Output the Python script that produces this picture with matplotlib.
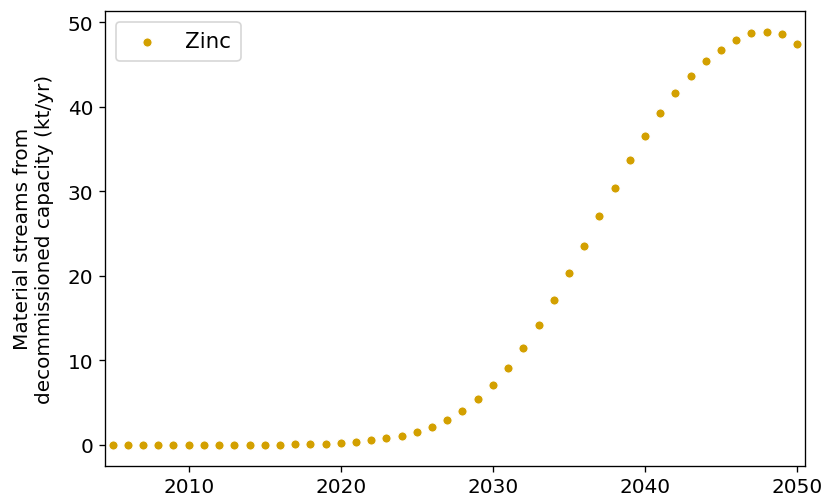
import matplotlib
matplotlib.use("Agg")
import matplotlib.pyplot as plt

years = list(range(2005, 2051))
zinc_kt = [
    0.0, 0.0, 0.0, 0.0, 0.0, 0.0, 0.0, 0.0, 0.0, 0.01,
    0.02, 0.04, 0.07, 0.11, 0.17, 0.25, 0.37, 0.53, 0.77, 1.08,
    1.55, 2.18, 3.0, 4.05, 5.4, 7.09, 9.1, 11.5, 14.2, 17.1,
    20.3, 23.6, 27.1, 30.4, 33.7, 36.6, 39.3, 41.7, 43.7, 45.4,
    46.8, 47.9, 48.7, 48.9, 48.6, 47.5,
]
series_name = "Zinc"
dot_color = "#d3a000"

plt.rcParams["font.size"] = 12
dpi = 120
fig = plt.figure(figsize=(827 / dpi, 505 / dpi), dpi=dpi)
ax = fig.add_axes([0.127, 0.076, 0.846, 0.9])

ax.scatter(years, zinc_kt, s=30, color=dot_color, edgecolor="white",
           linewidth=0.6, label=series_name, zorder=3)

ax.set_xlim(2004.5, 2050.5)
ax.set_xticks([2010, 2020, 2030, 2040, 2050])
ax.set_yticks([0, 10, 20, 30, 40, 50])
ax.set_ylabel("Material streams from\ndecommissioned capacity (kt/yr)",
              labelpad=8)
ax.legend(loc="upper left", fontsize=12.8, borderpad=0.45)

fig.savefig("out.png", dpi=dpi)
